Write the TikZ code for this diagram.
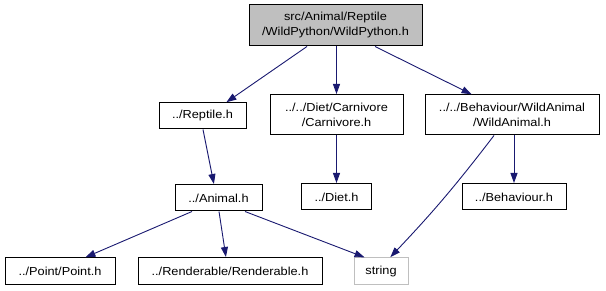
\documentclass[tikz,border=0pt]{standalone}
\usepackage{fontspec}
\setmainfont{Liberation Sans}[FakeStretch=1.1]
\usetikzlibrary{arrows.meta}
\definecolor{edgeblue}{HTML}{191970}
\definecolor{boxgray}{HTML}{BFBFBF}
\begin{document}
\begin{tikzpicture}[x=1pt,y=-1pt,
  filebox/.style={draw=black,line width=1pt,fill=white,inner sep=0pt,
    align=center,font=\fontsize{11.6}{15}\selectfont},
  mainbox/.style={filebox,fill=boxgray},
  sysbox/.style={filebox,draw=boxgray},
  dep/.style={draw=edgeblue,line width=0.9pt,
    -{Triangle[length=10pt,width=7pt]},shorten >=0.5pt}]
\useasboundingbox (0,0) rectangle (606,291);

% files
\node[mainbox,minimum width=173pt,minimum height=41pt] (wp) at (335.5,25.5)
  {src/Animal/Reptile\\/WildPython/WildPython.h};
\node[filebox,minimum width=87pt,minimum height=26pt] (rep) at (202.5,116) {../Reptile.h};
\node[filebox,minimum width=133pt,minimum height=40pt] (carn) at (336.5,115)
  {../../Diet/Carnivore\\/Carnivore.h};
\node[filebox,minimum width=174pt,minimum height=40pt] (wa) at (512,115)
  {../../Behaviour/WildAnimal\\/WildAnimal.h};
\node[filebox,minimum width=87pt,minimum height=26pt] (ani) at (218.5,198) {../Animal.h};
\node[filebox,minimum width=70pt,minimum height=26pt] (diet) at (336.5,197) {../Diet.h};
\node[filebox,minimum width=104pt,minimum height=26pt] (beh) at (514,197) {../Behaviour.h};
\node[filebox,minimum width=110pt,minimum height=27pt] (pt) at (60,271.5) {../Point/Point.h};
\node[filebox,minimum width=184pt,minimum height=27pt] (ren) at (230,271.5) {../Renderable/Renderable.h};
\node[sysbox,minimum width=54pt,minimum height=27pt] (str) at (381,271.5) {string};

% include dependencies
\draw[dep] ([xshift=-28.5pt]wp.south) -- ([xshift=23.5pt]rep.north);
\draw[dep] (carn.north |- wp.south) -- (carn.north);
\draw[dep] ([xshift=39.5pt]wp.south) -- ([xshift=-40pt]wa.north);
\draw[dep] ([xshift=0.5pt]rep.south) -- ([xshift=-4.5pt]ani.north);
\draw[dep] (carn.south) -- (diet.north);
\draw[dep] (beh.north |- wa.south) -- (beh.north);
\draw[dep] ([xshift=-18pt]wa.south) to[bend left=3] ([xshift=9pt]str.north);
\draw[dep] ([xshift=-26.5pt]ani.south) -- ([xshift=25pt]pt.north);
\draw[dep] ([xshift=0.5pt]ani.south) -- ([xshift=-4pt]ren.north);
\draw[dep] ([xshift=26.5pt]ani.south) -- ([xshift=-16pt]str.north);
\end{tikzpicture}
\end{document}
